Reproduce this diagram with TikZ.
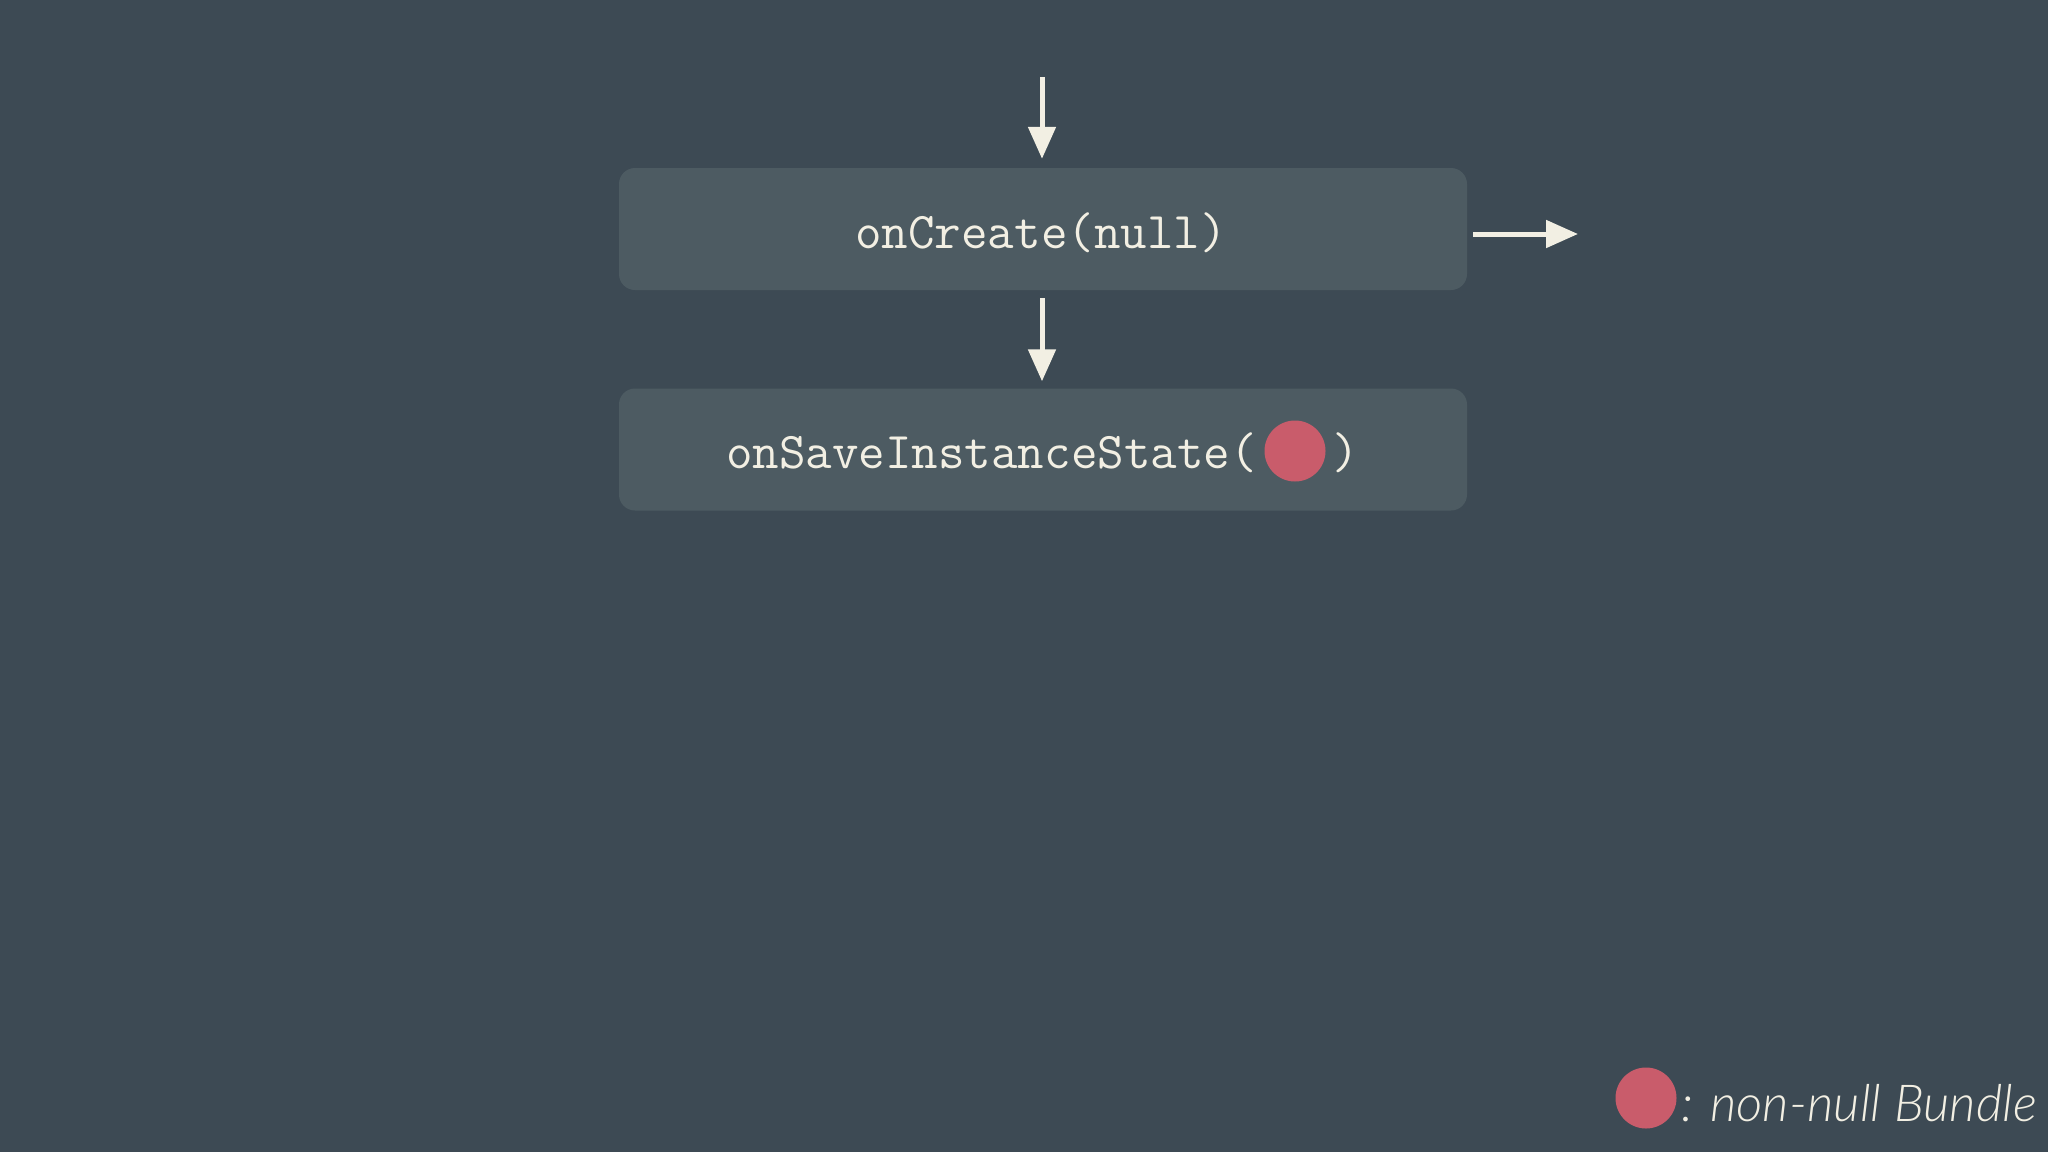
\documentclass[tikz,border=0pt]{standalone}
\usepackage{fontspec}
\newfontfamily\legendfont{Lato Light Italic}
\usetikzlibrary{arrows.meta}
\definecolor{bg}{HTML}{3D4A54}
\definecolor{boxfill}{HTML}{4D5B62}
\definecolor{cream}{HTML}{F2EFE3}
\definecolor{bundle}{HTML}{C95C6B}
\begin{document}
\begin{tikzpicture}[x=1pt,y=-1pt,
  statebox/.style={fill=boxfill, rounded corners=16pt, minimum width=848pt, minimum height=122pt, inner sep=0pt},
  code/.style={text=cream, font=\ttfamily\fontsize{51.5}{58}\selectfont, inner sep=0pt},
  flow/.style={draw=cream, line width=5pt, -{Triangle[width=27pt,length=32pt]}},
  dot/.style={circle, fill=bundle, minimum size=61pt, inner sep=0pt}]
\fill[bg] (0,0) rectangle (2048,1152);
\useasboundingbox (0,0) rectangle (2048,1152);
\node[statebox] (create) at (1043,229) {};
\node[statebox] (save) at (1043,449.5) {};
\node[code, anchor=mid] (createtxt) at (1041,246) {onCreate(null)};
\node[code, anchor=mid west] (savetxt) at (726,466) {onSaveInstanceState(};
\node[dot] (savedot) at (1295,451) {};
\node[code, anchor=mid] (saveclose) at (1346,466) {)};
\coordinate (top) at (1042,77);
\coordinate (right) at (1578,234);
\draw[flow, shorten >=9pt] (top) -- (top |- create.north);
\draw[flow, shorten <=8pt, shorten >=7pt] (top |- create.south) -- (top |- save.north);
\draw[flow, shorten <=6pt] (create.east |- right) -- (right);
\node[dot] (legenddot) at (1646,1098) {};
\node[text=cream, font=\legendfont\fontsize{51}{60}\selectfont, anchor=base west, inner sep=0pt] (legendtxt) at (1681,1121) {: non-null Bundle};
\end{tikzpicture}
\end{document}
